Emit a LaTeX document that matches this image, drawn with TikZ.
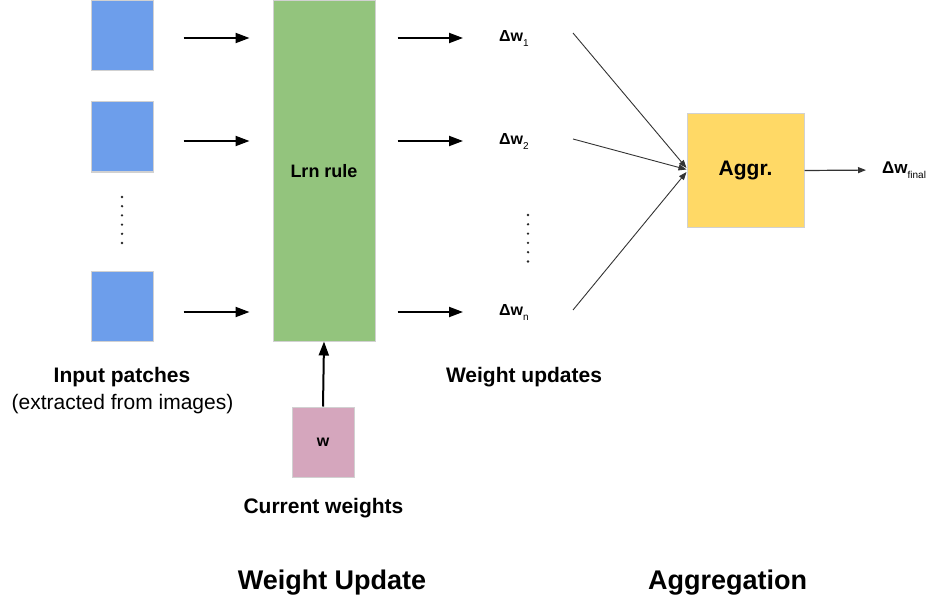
\documentclass[tikz,border=0pt]{standalone}
\usepackage{fontspec}
\setmainfont{Liberation Sans}
\usetikzlibrary{arrows.meta,positioning}

\definecolor{patchblue}{HTML}{6D9EEB}
\definecolor{rulegreen}{HTML}{93C47D}
\definecolor{aggryellow}{HTML}{FFD966}
\definecolor{weightpink}{HTML}{D5A6BD}

\tikzset{
  box/.style={draw=black!18, line width=1pt, inner sep=0pt},
  patch/.style={box, fill=patchblue, minimum width=62pt, minimum height=70pt},
  flow/.style={line width=2pt, -{Triangle[length=14pt,width=10pt]}},
  feed/.style={line width=0.9pt, draw=black!80, -{Triangle[length=8pt,width=6pt]}},
  lbl/.style={font=\fontsize{21}{25}\selectfont\bfseries},
  title/.style={font=\fontsize{27}{32}\selectfont\bfseries},
  dlbl/.style={font=\fontsize{16}{19}\selectfont\bfseries, anchor=west, inner sep=2pt},
  vdot/.style={fill=black!85, circle, inner sep=0pt, minimum size=2.6pt},
}

\newcommand{\dwsub}[1]{Δw\raisebox{-5pt}{\fontsize{10}{10}\selectfont\mdseries #1}}

\begin{document}
\begin{tikzpicture}[x=1pt,y=-1pt]
	\useasboundingbox (0,0) rectangle (933,604);

	% Input patches
	\node[patch] (p1) at (122,36) {};
	\node[patch] (p2) at (122,137) {};
	\node[patch] (pn) at (122,306) {};
	\foreach \k in {0,...,5}
		\node[vdot] (ldot\k) at (122,197+9.2*\k) {};

	% Learning rule
	\node[box, fill=rulegreen, minimum width=102pt, minimum height=340pt,
		font=\fontsize{18}{20}\selectfont\bfseries] (rule) at (324,171) {Lrn rule};

	% Current weights
	\node[box, fill=weightpink, minimum width=62pt, minimum height=70pt,
		font=\fontsize{16}{18}\selectfont\bfseries] (w) at (323,442) {w};

	% Weight updates
	\node[dlbl] (d1) at (497,38) {\dwsub{1}};
	\node[dlbl] (d2) at (497,141) {\dwsub{2}};
	\node[dlbl] (dn) at (497,312) {\dwsub{n}};
	\foreach \k in {0,...,5}
		\node[vdot] (rdot\k) at (528,215+9.3*\k) {};

	% Aggregation
	\node[box, fill=aggryellow, minimum width=117pt, minimum height=113pt,
		font=\fontsize{21}{25}\selectfont\bfseries] (aggr) at (745.5,170.5) {Aggr.};
	\node[dlbl, font=\fontsize{17}{20}\selectfont\bfseries] (dfin) at (880,170) {\dwsub{final}};

	% Patches -> rule -> updates
	\foreach \p/\d in {p1/d1, p2/d2, pn/dn} {
		\draw[flow, shorten <=30pt, shorten >=23pt] (\p.east |- \d) -- (rule.west |- \d);
		\draw[flow, shorten <=22pt, shorten >=34pt] (rule.east |- \d) -- (\d.west);
	}
	\draw[flow] (w.north) -- (rule.south);

	% Updates -> aggregation
	\coordinate (f1) at (573,33);
	\coordinate (f2) at (573,139);
	\coordinate (fn) at (573,310);
	\draw[feed] (f1) -- ([yshift=2.5pt]aggr.west);
	\draw[feed] (f2) -- ([yshift=1pt]aggr.west);
	\draw[feed] (fn) -- ([yshift=-1.5pt]aggr.west);
	\draw[feed, line width=1.2pt, shorten >=14pt] (aggr.east) -- (dfin.west);

	% Labels
	\node[lbl] (inlbl) at (122,377) {Input patches};
	\node[font=\fontsize{21}{25}\selectfont] (inlbl2) at (122.5,404) {(extracted from images)};
	\node[lbl] (cwlbl) at (323.5,508) {Current weights};
	\node[lbl] (wulbl) at (524,377) {Weight updates};
	\node[title] (wutitle) at (332,583) {Weight Update};
	\node[title] (agtitle) at (727.5,583) {Aggregation};
\end{tikzpicture}
\end{document}
